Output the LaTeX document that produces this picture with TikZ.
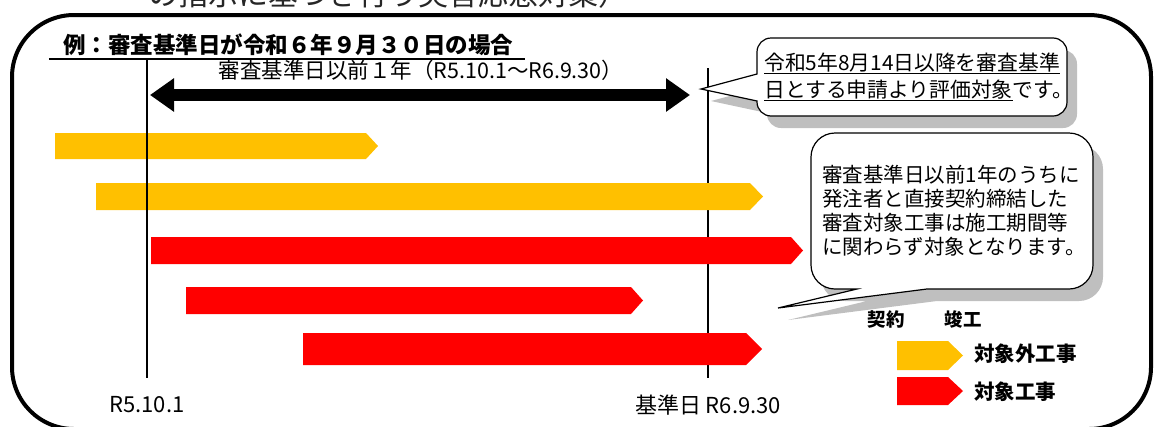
\documentclass[tikz,border=0pt]{standalone}
\usepackage{fontspec}
\setmainfont{Noto Sans CJK JP}
\usetikzlibrary{arrows.meta,calc}
\definecolor{barY}{HTML}{FFC000}
\definecolor{barR}{HTML}{FF0000}
\definecolor{shd}{HTML}{BFBFBF}
\newcommand{\pbar}[6]{% style, x1, xtip, ytop, ybot, tiplen
  \fill[#1] (#2,#4) -- ({#3-#6},#4) -- (#3,{(#4+#5)/2}) -- ({#3-#6},#5) -- (#2,#5) -- cycle;}
\def\calloutA{(701,89) -- (757,74) {[rounded corners=14pt] -- (757,38) -- (1067,38) -- (1067,116) -- (757,116)} -- (757,101) -- cycle}
\def\calloutB{(778,308) -- (857,289) {[rounded corners=24pt] -- (811,289) -- (811,133) -- (1093,133) -- (1093,289)} -- (927,289) -- cycle}
\begin{document}
\begin{tikzpicture}[x=1pt,y=-1pt,
  txt/.style={inner sep=0pt, font=\fontsize{19}{23}\selectfont},
  vline/.style={line width=2pt},
  bubble/.style={draw=black, line width=1.2pt, fill=white},
  bubbleshadow/.style={fill=shd}]
\useasboundingbox (0,0) rectangle (1155,426);
% cut-off heading at the top
\node[inner sep=0pt, anchor=base west, font=\fontsize{30}{34}\selectfont, text=black!85] (head) at (148,5.5) {の指示に基づき行う災害応急対策）};
% outer frame
\draw[line width=4pt, rounded corners=62pt] (12,15) rectangle (1151,429);
% title
\node[txt, font=\bfseries\fontsize{22.5}{26}\selectfont] (title) at (288,45) {例：審査基準日が令和６年９月３０日の場合};
\draw[line width=1.5pt] ($(title.south west)+(-14,3)$) -- ($(title.south east)+(12,3)$);
% vertical date lines
\coordinate (v1t) at (147,58);
\coordinate (v1b) at (147,378);
\coordinate (v2t) at (708,68);
\coordinate (v2b) at (708,378);
\draw[vline] (v2t) -- (v2b);
% period arrow
\node[txt, font=\fontsize{21.5}{25}\selectfont] (period) at (421,70) {審査基準日以前１年（R5.10.1～R6.9.30）};
\coordinate (pa) at (150,95);
\coordinate (pb) at (690,95);
\draw[line width=12pt, {Triangle[length=24pt 0 0,width=32pt 0 0]}-{Triangle[length=24pt 0 0,width=32pt 0 0]}] (pa) -- (pb);
% bars
\pbar{barY}{55}{378}{133}{159}{12}
\pbar{barY}{96}{763}{183}{210}{13}
\pbar{barR}{151}{803}{237}{264}{12}
\pbar{barR}{186}{643}{287}{314}{12}
\pbar{barR}{303}{762}{333}{365}{16}
\draw[vline] (v1t) -- (v1b);
% date labels
\node[txt, font=\fontsize{22}{25}\selectfont] (d1) at (147,405) {R5.10.1};
\node[txt, font=\fontsize{22}{25}\selectfont] (d2) at (708,405) {基準日 R6.9.30};
% callout 1
\fill[bubbleshadow, shift={(10,12)}] \calloutA;
\path[bubble] \calloutA;
\node[txt, anchor=west, align=left, font=\fontsize{20.8}{27}\selectfont] (c1) at (764,77)
  {\underline{令和5年8月14日以降を審査基準}\\\underline{日とする申請より評価対象}です。};
% callout 2
\fill[bubbleshadow, shift={(10,12)}] \calloutB;
\path[bubble] \calloutB;
\node[txt, anchor=west, align=left, font=\fontsize{20.5}{24}\selectfont] (c2) at (822,211)
  {審査基準日以前1年のうちに\\発注者と直接契約締結した\\審査対象工事は施工期間等\\に関わらず対象となります。};
% legend
\node[txt, font=\bfseries\fontsize{18.5}{22}\selectfont] (lk) at (886,319) {契約};
\node[txt, font=\bfseries\fontsize{18.5}{22}\selectfont] (ls) at (963,319) {竣工};
\pbar{barY}{897}{963}{341}{370}{15}
\pbar{barR}{897}{963}{377}{405}{15}
\node[txt, anchor=west, font=\bfseries\fontsize{20.5}{23}\selectfont] (ly) at (974,354) {対象外工事};
\node[txt, anchor=west, font=\bfseries\fontsize{20.5}{23}\selectfont] (lr) at (974,392) {対象工事};
\end{tikzpicture}
\end{document}
